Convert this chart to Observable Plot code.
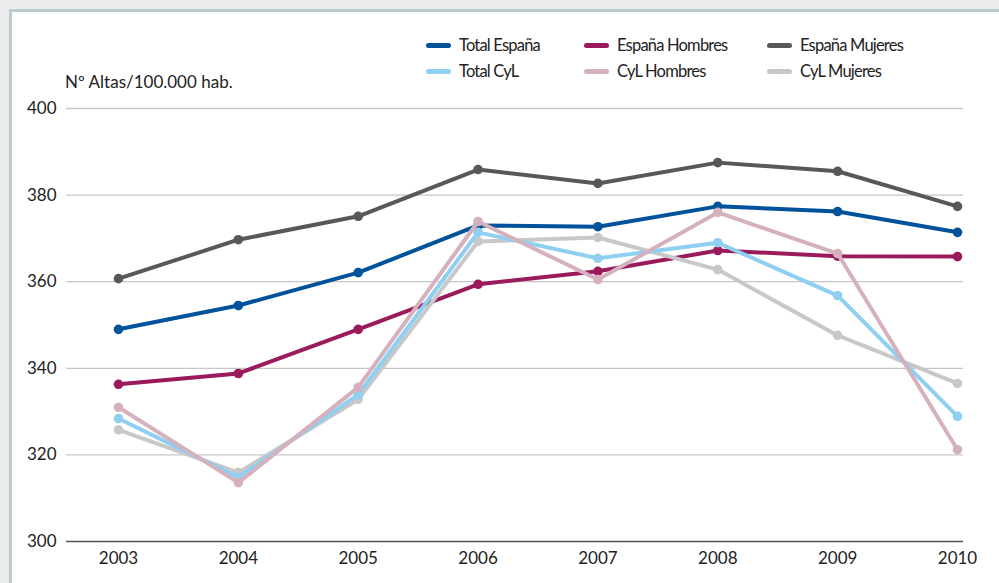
<!DOCTYPE html>
<html>
<head>
<meta charset="utf-8">
<script src="https://cdn.jsdelivr.net/npm/d3@7"></script>
<script src="https://cdn.jsdelivr.net/npm/@observablehq/plot@0.6"></script>
<style>
  html, body { margin: 0; padding: 0; }
  body { width: 999px; height: 583px; overflow: hidden; position: relative;
         background: linear-gradient(150deg, #ebebed 0%, #ebebed 80%, #f6f6f7 80%, #f6f6f7 100%); font-family: Lato, "Open Sans", sans-serif; }
  #panel { position: absolute; left: 9px; top: 9px; right: 0; bottom: 0; background: #fff;
           border-left: 3px solid #b9cdcd; border-top: 3px solid #b9cdcd; }
  #chart { position: absolute; left: 0; top: 0; }
  .leg { position: absolute; font-size: 16.5px; color: #222; letter-spacing: -0.8px; line-height: 1; white-space: nowrap; }
  .leg span.sw { display: inline-block; width: 25px; height: 5px; border-radius: 3px; vertical-align: middle; margin-right: 8px; position: relative; top: -1px; }
  #ylab { position: absolute; left: 65px; top: 71px; font-size: 17px; color: #222; letter-spacing: 0px; }
</style>
</head>
<body>
<div id="panel"></div>
<div id="chart"></div>
<div id="ylab">Nº Altas/100.000 hab.</div>
<div id="legend"></div>
<script>
const years = [2003, 2004, 2005, 2006, 2007, 2008, 2009, 2010];
const seriesNames = ["España Mujeres", "Total España", "España Hombres", "CyL Mujeres", "Total CyL", "CyL Hombres"];
const espanaMujeres = [360.7, 369.7, 375.1, 385.9, 382.7, 387.5, 385.5, 377.4];
const totalEspana   = [349.0, 354.5, 362.1, 373.0, 372.7, 377.4, 376.2, 371.4];
const espanaHombres = [336.3, 338.8, 349.0, 359.4, 362.4, 367.2, 365.9, 365.8];
const cylMujeres    = [325.8, 315.9, 332.8, 369.3, 370.2, 362.8, 347.6, 336.5];
const totalCyl      = [328.4, 314.8, 333.9, 371.4, 365.4, 369.0, 356.8, 328.9];
const cylHombres    = [331.0, 313.6, 335.6, 373.9, 360.5, 376.0, 366.5, 321.2];
const seriesColors  = ["#58585a", "#00529b", "#9a1a5c", "#c8c8c9", "#8ecff2", "#d5b1be"];
const yTicks = [300, 320, 340, 360, 380, 400];

const legendOrder = [
  ["Total España", 426, 37], ["España Hombres", 584, 37], ["España Mujeres", 767, 37],
  ["Total CyL", 426, 63], ["CyL Hombres", 584, 63], ["CyL Mujeres", 767, 63]
];

const values = [espanaMujeres, totalEspana, espanaHombres, cylMujeres, totalCyl, cylHombres];
const data = [];
seriesNames.forEach((name, i) => years.forEach((yr, j) => data.push({serie: name, year: yr, value: values[i][j]})));
const colorOf = Object.fromEntries(seriesNames.map((n, i) => [n, seriesColors[i]]));

const marks = [
  Plot.ruleY(yTicks.filter(d => d > 300), {stroke: "#c6c6c8", strokeWidth: 1.3}),
  Plot.ruleY([300], {stroke: "#555", strokeWidth: 1.5}),
  Plot.axisY({ticks: yTicks, tickSize: 0, tickPadding: 10, fontSize: 17, tickFormat: d => String(d)}),
  Plot.axisX({ticks: years, tickSize: 0, tickPadding: 10, fontSize: 17, tickFormat: d => String(d)})
];
seriesNames.forEach(name => {
  const sub = data.filter(d => d.serie === name);
  marks.push(Plot.line(sub, {x: "year", y: "value", stroke: colorOf[name], strokeWidth: 4, curve: "linear"}));
  marks.push(Plot.dot(sub, {x: "year", y: "value", fill: colorOf[name], r: 4.8, stroke: "none"}));
});

const chart = Plot.plot({
  width: 999,
  height: 583,
  marginLeft: 66,
  marginRight: 36,
  marginTop: 108,
  marginBottom: 42,
  style: {background: "transparent", color: "#222", fontFamily: "Lato, 'Open Sans', sans-serif"},
  x: {domain: [2003, 2010], range: [118, 957], label: null},
  y: {domain: [300, 400], label: null},
  marks
});
document.getElementById("chart").appendChild(chart);

const legend = document.getElementById("legend");
legendOrder.forEach(([name, x, y]) => {
  const div = document.createElement("div");
  div.className = "leg";
  div.style.left = x + "px";
  div.style.top = y + "px";
  div.innerHTML = `<span class="sw" style="background:${colorOf[name]}"></span>${name}`;
  legend.appendChild(div);
});
</script>
</body>
</html>
